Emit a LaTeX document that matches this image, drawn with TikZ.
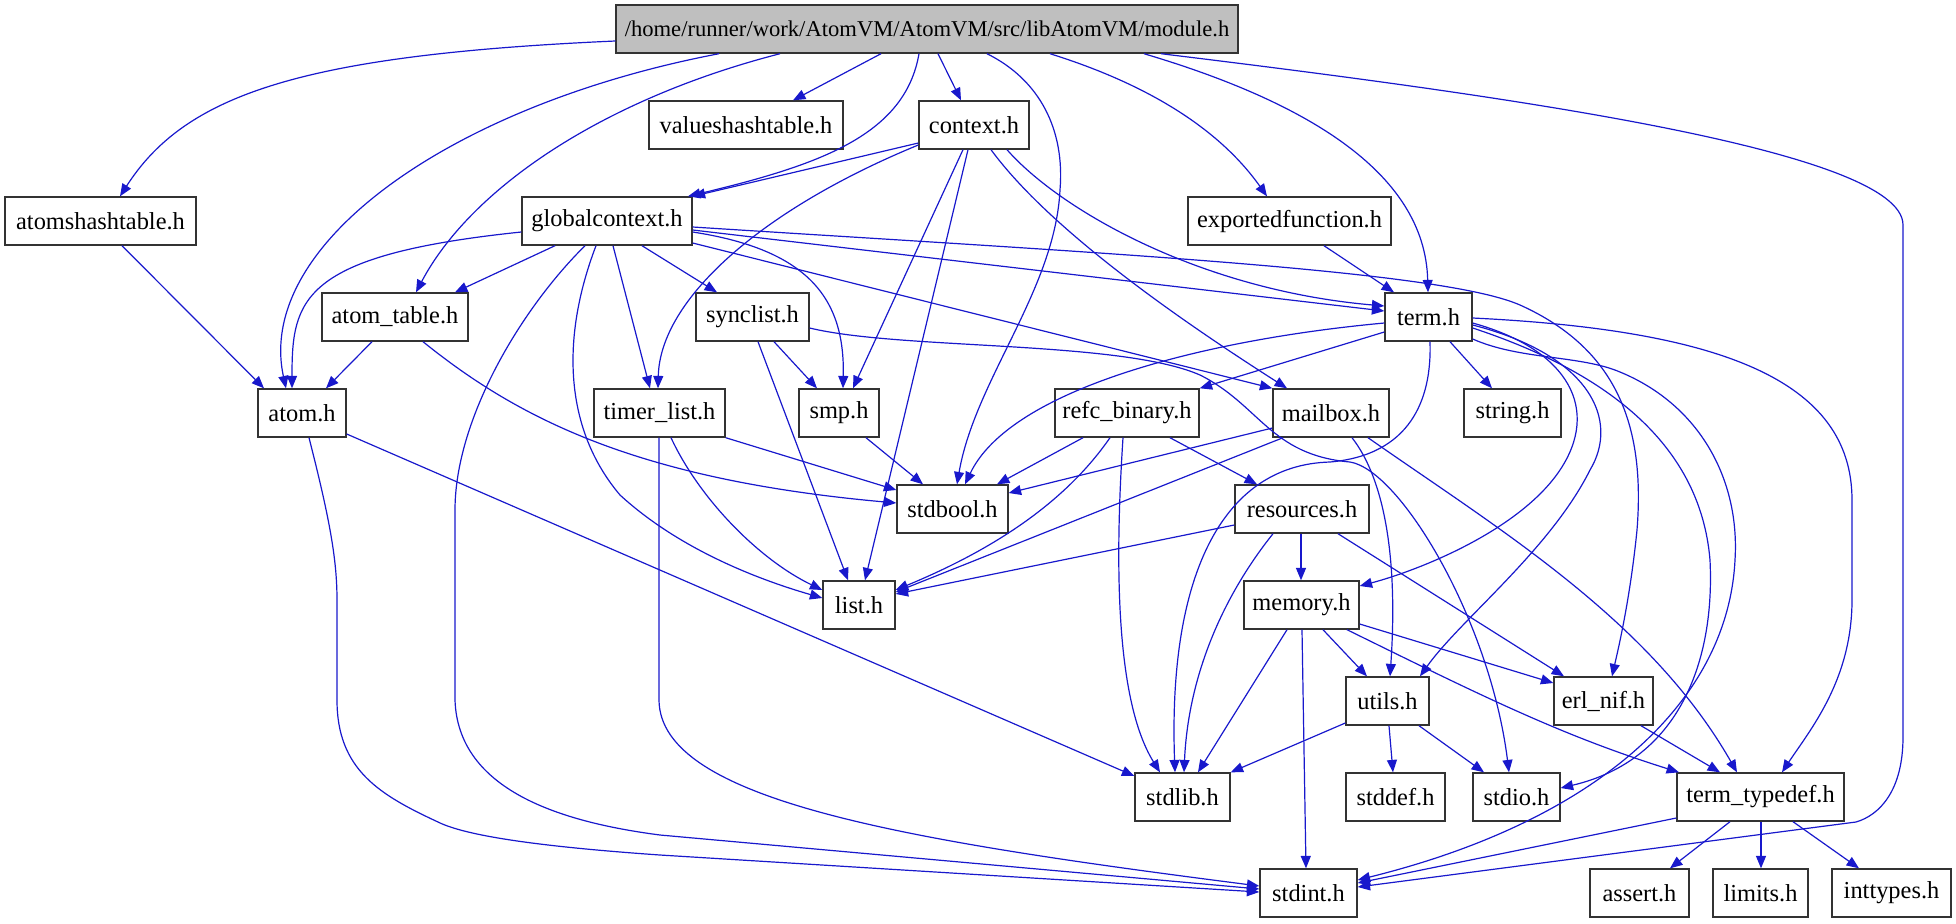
\documentclass[tikz,border=0pt]{standalone}
\usepackage{fontspec}
\setmainfont{Liberation Serif}
\usepackage{tikz}
\usetikzlibrary{arrows.meta}
\usepackage{xcolor}
\definecolor{edgeblue}{rgb}{0.094,0.094,0.8}
\definecolor{hdrgray}{rgb}{0.749,0.749,0.749}
\definecolor{hdrline}{rgb}{0.2,0.2,0.2}

\begin{document}
\begin{tikzpicture}[x=0.5pt,y=-0.5pt,>={Triangle[length=6.2pt,width=5pt]},
  file/.style={draw=hdrline, line width=0.7pt, fill=white, minimum height=24pt, inner sep=0pt, font=\fontsize{12.2pt}{14pt}\selectfont},
  dep/.style={->, draw=edgeblue, line width=0.6pt}]
\useasboundingbox (0,0) rectangle (1956,923);
% files
\node [file, fill=hdrgray, minimum width=311pt, font=\fontsize{11.3pt}{14pt}\selectfont] (module) at (927,29) {/home/runner/work/AtomVM/AtomVM/src/libAtomVM/module.h};
\node [file, minimum width=95.5pt] (atomshash) at (100.5,221) {atomshashtable.h};
\node [file, minimum width=97pt] (valueshash) at (746,125) {valueshashtable.h};
\node [file, minimum width=55pt] (context) at (974,125) {context.h};
\node [file, minimum width=85pt] (globalctx) at (607,221) {globalcontext.h};
\node [file, minimum width=101.5pt] (exportfn) at (1289.5,221) {exportedfunction.h};
\node [file, minimum width=73pt] (atomtable) at (395,317) {atom\_table.h};
\node [file, minimum width=56.5pt] (synclist) at (752.5,317) {synclist.h};
\node [file, minimum width=43.5pt] (term) at (1428.5,317) {term.h};
\node [file, minimum width=44pt] (atom) at (302,413) {atom.h};
\node [file, minimum width=65.5pt] (timerlist) at (659.5,413) {timer\_list.h};
\node [file, minimum width=40pt] (smp) at (839,413) {smp.h};
\node [file, minimum width=72pt] (refcbin) at (1127,413) {refc\_binary.h};
\node [file, minimum width=58pt] (mailbox) at (1331,413) {mailbox.h};
\node [file, minimum width=48.5pt] (stringh) at (1512.5,413) {string.h};
\node [file, minimum width=55.5pt] (stdbool) at (952.5,509) {stdbool.h};
\node [file, minimum width=67pt] (resources) at (1302,509) {resources.h};
\node [file, minimum width=36pt] (list) at (859,605) {list.h};
\node [file, minimum width=57.5pt] (memory) at (1301.5,605) {memory.h};
\node [file, minimum width=41.5pt] (utils) at (1387.5,701) {utils.h};
\node [file, minimum width=49.5pt] (erlnif) at (1603.5,701) {erl\_nif.h};
\node [file, minimum width=47.5pt] (stdlib) at (1182.5,797) {stdlib.h};
\node [file, minimum width=49.5pt] (stddef) at (1395.5,797) {stddef.h};
\node [file, minimum width=43.5pt] (stdio) at (1516.5,797) {stdio.h};
\node [file, minimum width=83.5pt] (termtypedef) at (1760.5,797) {term\_typedef.h};
\node [file, minimum width=48.5pt] (stdint) at (1308.5,893) {stdint.h};
\node [file, minimum width=49.5pt] (assert) at (1639.5,893) {assert.h};
\node [file, minimum width=47.5pt] (limits) at (1760.5,893) {limits.h};
\node [file, minimum width=59.5pt] (inttypes) at (1891.5,893) {inttypes.h};
% module.h
\draw [dep] (module.west |- 0,41) .. controls (300,55) and (185,95) .. (atomshash.north -| 120,0);
\draw [dep] (module.south -| 719,0) .. controls (450,105) and (255,245) .. (atom.north -| 286,0);
\draw [dep] (module.south -| 780,0) .. controls (600,100) and (470,190) .. (atomtable.north -| 416,0);
\draw [dep] (module.south -| 881,0) -- (valueshash.north -| 793,0);
\draw [dep] (module.south -| 919,0) .. controls (905,135) and (820,165) .. (globalctx.north -| 688,0);
\draw [dep] (module.south -| 938,0) -- (context.north -| 961,0);
\draw [dep] (module.south -| 987,0) .. controls (1040,80) and (1065,130) .. (1060,190) .. controls (1055,290) and (975,380) .. (stdbool.north -| 957,0);
\draw [dep] (module.south -| 1050,0) .. controls (1150,85) and (1220,130) .. (exportfn.north -| 1267,0);
\draw [dep] (module.south -| 1144,0) .. controls (1300,100) and (1425,170) .. (term.north -| 1428,0);
\draw [dep] (module.south -| 1161,0) .. controls (1500,95) and (1903,150) .. (1903,225) -- (1903,737) .. controls (1903,790) and (1880,815) .. (1856,822) -- (stdint.east |- 0,887);
% context.h
\draw [dep] (context.west |- 0,143) -- (globalctx.north east);
\draw [dep] (context.west |- 0,145) .. controls (760,210) and (660,300) .. (timerlist.north -| 658,0);
\draw [dep] (context.south -| 963,0) -- (smp.north -| 853,0);
\draw [dep] (context.south -| 968,0) -- (list.north -| 865,0);
\draw [dep] (context.south -| 991,0) .. controls (1050,230) and (1180,320) .. (mailbox.north -| 1287,0);
\draw [dep] (context.south -| 1007,0) .. controls (1060,210) and (1200,290) .. (term.west |- 0,306);
% globalcontext.h
\draw [dep] (globalctx.west |- 0,232) .. controls (300,255) and (292,300) .. (atom.north -| 292,0);
\draw [dep] (globalctx.south -| 555,0) -- (atomtable.north -| 455,0);
\draw [dep] (globalctx.south -| 585,0) .. controls (520,310) and (455,420) .. (455,510) -- (455,700) .. controls (458,790) and (560,822) .. (660,835) -- (stdint.west |- 0,889);
\draw [dep] (globalctx.south -| 596,0) .. controls (560,340) and (565,430) .. (620,495) .. controls (680,550) and (760,580) .. (list.west |- 0,598);
\draw [dep] (globalctx.south -| 613,0) -- (timerlist.north -| 650,0);
\draw [dep] (globalctx.south -| 642,0) -- (synclist.north -| 717,0);
\draw [dep] (globalctx.east |- 0,232) .. controls (810,250) and (845,300) .. (smp.north -| 843,0);
\draw [dep] (globalctx.east |- 0,243) -- (mailbox.north west);
\draw [dep] (globalctx.east |- 0,230) -- (term.west |- 0,311);
\draw [dep] (globalctx.east |- 0,227) .. controls (1100,253) and (1440,270) .. (1520,305) .. controls (1620,350) and (1645,430) .. (1637,530) .. controls (1630,600) and (1618,650) .. (erlnif.north -| 1612,0);
% synclist.h, timer_list.h, atom_table.h, atom.h
\draw [dep] (synclist.south -| 774,0) -- (smp.north -| 817,0);
\draw [dep] (synclist.south -| 758,0) -- (list.north -| 848,0);
\draw [dep] (synclist.east |- 0,328) .. controls (900,350) and (1120,340) .. (1200,375) .. controls (1260,405) and (1270,455) .. (1350,462) .. controls (1400,470) and (1490,620) .. (stdio.north -| 1509,0);
\draw [dep] (timerlist.south east) -- (stdbool.west |- 0,490);
\draw [dep] (timerlist.south -| 671,0) .. controls (700,500) and (760,560) .. (list.west |- 0,590);
\draw [dep] (timerlist.south -| 659,0) -- (659,700) .. controls (660,800) and (900,840) .. (stdint.west |- 0,886);
\draw [dep] (atomtable.south -| 372,0) -- (atom.north -| 326,0);
\draw [dep] (atomtable.south -| 423,0) .. controls (520,420) and (640,480) .. (stdbool.west |- 0,503);
\draw [dep] (atomshash.south -| 122,0) -- (atom.north -| 264,0);
\draw [dep] (atom.east |- 0,434) -- (stdlib.west |- 0,776);
\draw [dep] (atom.south -| 309,0) .. controls (330,520) and (337,560) .. (337,600) -- (337,700) .. controls (337,770) and (380,795) .. (438,822) .. controls (470,838) and (560,848) .. (660,855) -- (stdint.west |- 0,892);
\draw [dep] (smp.south -| 866,0) -- (stdbool.north -| 923,0);
\draw [dep] (exportfn.south -| 1324,0) -- (term.north -| 1394,0);
% term.h
\draw [dep] (term.south -| 1450,0) -- (stringh.north -| 1492,0);
\draw [dep] (term.west |- 0,323) .. controls (1200,340) and (1010,390) .. (stdbool.north -| 965,0);
\draw [dep] (term.west |- 0,332) -- (refcbin.north east);
\draw [dep] (term.south -| 1430,0) .. controls (1432,400) and (1410,455) .. (1330,462) .. controls (1220,465) and (1168,580) .. (stdlib.north -| 1175,0);
\draw [dep] (term.east |- 0,323) .. controls (1570,350) and (1600,410) .. (1560,470) .. controls (1520,530) and (1420,570) .. (memory.east |- 0,586);
\draw [dep] (term.east |- 0,325) .. controls (1590,355) and (1620,420) .. (1590,470) .. controls (1550,550) and (1460,620) .. (utils.north -| 1420,0);
\draw [dep] (term.east |- 0,328) .. controls (1600,370) and (1700,440) .. (1710,560) .. controls (1715,660) and (1680,760) .. (stdio.east |- 0,788);
\draw [dep] (term.east |- 0,339) .. controls (1520,360) and (1580,355) .. (1620,372) .. controls (1700,405) and (1740,480) .. (1735,560) .. controls (1728,700) and (1600,820) .. (stdint.east |- 0,880);
\draw [dep] (term.east |- 0,318) .. controls (1720,330) and (1852,380) .. (1852,500) -- (1852,600) .. controls (1852,680) and (1810,730) .. (termtypedef.north -| 1782,0);
% mailbox.h, refc_binary.h, resources.h
\draw [dep] (mailbox.west |- 0,428) -- (stdbool.east |- 0,493);
\draw [dep] (mailbox.south -| 1283,0) -- (list.east |- 0,592);
\draw [dep] (mailbox.south -| 1352,0) .. controls (1385,480) and (1398,560) .. (utils.north -| 1390,0);
\draw [dep] (mailbox.south -| 1368,0) .. controls (1500,530) and (1650,620) .. (termtypedef.north -| 1737,0);
\draw [dep] (refcbin.south -| 1083,0) -- (stdbool.north -| 997,0);
\draw [dep] (refcbin.south -| 1110,0) .. controls (1060,510) and (980,555) .. (list.east |- 0,590);
\draw [dep] (refcbin.south -| 1123,0) .. controls (1115,560) and (1115,700) .. (stdlib.north -| 1160,0);
\draw [dep] (refcbin.south -| 1170,0) -- (resources.north -| 1257,0);
\draw [dep] (resources.west |- 0,525) -- (list.east |- 0,594);
\draw [dep] (resources.south -| 1301,0) -- (memory.north -| 1301,0);
\draw [dep] (resources.south -| 1273,0) .. controls (1220,600) and (1188,680) .. (stdlib.north -| 1184,0);
\draw [dep] (resources.south -| 1338,0) -- (erlnif.north -| 1564,0);
% memory.h, utils.h, erl_nif.h, term_typedef.h
\draw [dep] (memory.south -| 1287,0) -- (stdlib.north -| 1198,0);
\draw [dep] (memory.south -| 1302,0) -- (stdint.north -| 1306,0);
\draw [dep] (memory.south -| 1323,0) -- (utils.north -| 1367,0);
\draw [dep] (memory.south -| 1347,0) .. controls (1480,695) and (1560,735) .. (termtypedef.north -| 1679,0);
\draw [dep] (memory.east |- 0,624) -- (erlnif.west |- 0,683);
\draw [dep] (utils.west |- 0,723) -- (stdlib.north east);
\draw [dep] (utils.south -| 1389,0) -- (stddef.north -| 1393,0);
\draw [dep] (utils.south -| 1419,0) -- (stdio.north -| 1484,0);
\draw [dep] (erlnif.south -| 1641,0) -- (termtypedef.north -| 1720,0);
\draw [dep] (termtypedef.west |- 0,818) -- (stdint.east |- 0,883);
\draw [dep] (termtypedef.south -| 1730,0) -- (assert.north -| 1670,0);
\draw [dep] (termtypedef.south -| 1761,0) -- (limits.north -| 1761,0);
\draw [dep] (termtypedef.south -| 1793,0) -- (inttypes.north -| 1859,0);
\end{tikzpicture}
\end{document}
